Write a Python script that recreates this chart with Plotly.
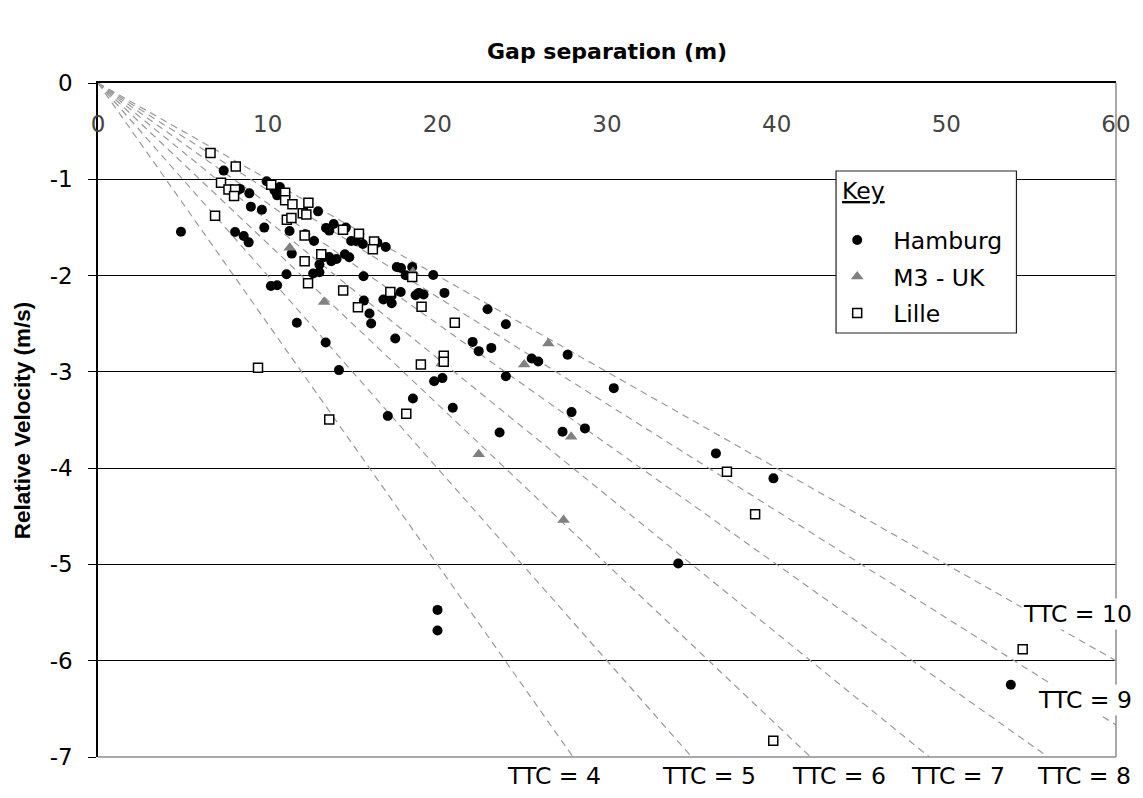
import plotly.graph_objects as go

# ---------------- data ----------------
hamburg_gap = [7.41, 9.94, 10.72, 10.40, 10.56, 8.37, 8.92, 9.01, 9.66, 4.89,
               8.08, 8.59, 8.88, 9.80, 11.29, 12.97, 13.89, 13.44, 13.63, 14.61,
               12.22, 12.73, 11.42, 13.34, 13.63, 14.06, 14.55, 13.05, 12.68, 13.05,
               11.11, 10.19, 10.56, 11.72, 14.92, 15.20, 15.61, 16.47, 16.96, 14.81,
               15.65, 17.61, 17.86, 18.13, 18.52, 19.76, 17.84, 17.31, 17.31, 16.82,
               18.72, 18.91, 19.19, 20.42, 15.67, 16.00, 16.10, 22.96, 24.04, 13.75,
               13.42, 17.52, 22.08, 22.44, 23.18, 25.56, 25.95, 24.04, 14.20, 19.81,
               20.30, 18.56, 17.08, 20.91, 23.67, 27.68, 30.40, 27.91, 27.38, 28.70,
               36.42, 39.81, 20.01, 20.01, 34.20, 53.80]
hamburg_vel = [-0.91, -1.02, -1.08, -1.115, -1.167, -1.10, -1.146, -1.284, -1.316, -1.544,
               -1.547, -1.589, -1.655, -1.502, -1.537, -1.333, -1.464, -1.506, -1.533, -1.502,
               -1.572, -1.641, -1.772, -1.807, -1.807, -1.828, -1.779, -1.886, -1.979, -1.966,
               -1.987, -2.108, -2.10, -2.49, -1.641, -1.641, -1.672, -1.658, -1.703, -1.810,
               -2.007, -1.911, -1.921, -1.997, -1.911, -1.994, -2.17, -2.21, -2.287, -2.249,
               -2.204, -2.18, -2.197, -2.18, -2.26, -2.394, -2.498, -2.35, -2.505, -1.852,
               -2.695, -2.654, -2.689, -2.785, -2.751, -2.861, -2.892, -3.045, -2.982, -3.097,
               -3.065, -3.276, -3.459, -3.373, -3.629, -2.823, -3.169, -3.418, -3.622, -3.587,
               -3.847, -4.106, -5.472, -5.687, -4.99, -6.25]

m3_gap = [11.30, 13.32, 18.56, 20.25, 26.54, 25.12, 22.44, 27.89, 27.44]
m3_vel = [-1.71, -2.274, -1.962, -2.913, -2.705, -2.923, -3.857, -3.674, -4.538]

lille_gap = [6.63, 8.12, 7.25, 7.69, 8.08, 8.02, 6.90, 10.21, 11.03, 11.03,
             11.46, 12.40, 12.07, 12.28, 11.13, 11.40, 12.18, 13.16, 12.18, 12.38,
             14.45, 14.44, 15.38, 16.27, 16.20, 17.23, 15.32, 18.52, 19.07, 21.03,
             20.38, 20.38, 19.03, 13.63, 18.17, 9.43, 37.07, 38.73, 39.80, 54.50]
lille_vel = [-0.728, -0.866, -1.035, -1.105, -1.105, -1.174, -1.378, -1.056, -1.139, -1.219,
             -1.26, -1.243, -1.354, -1.367, -1.419, -1.402, -1.585, -1.779, -1.852, -2.08,
             -2.156, -1.523, -1.565, -1.645, -1.727, -2.17, -2.329, -2.014, -2.325, -2.49,
             -2.834, -2.896, -2.923, -3.494, -3.436, -2.958, -4.037, -4.479, -6.83, -5.88]

ttc_values = [4, 5, 6, 7, 8, 9, 10]
x_tick_vals = [0, 10, 20, 30, 40, 50, 60]
x_tick_text = ["0", "10", "20", "30", "40", "50", "60"]
y_tick_vals = [0, -1, -2, -3, -4, -5, -6, -7]
y_tick_text = ["0", "-1", "-2", "-3", "-4", "-5", "-6", "-7"]
x_range = [0, 60]
y_range = [-7, 0]

FONT = "DejaVu Sans, Verdana, sans-serif"
BOLD_FONT_ARIAL = "Liberation Sans, Arial, sans-serif"

fig = go.Figure()

# TTC reference lines: relative velocity = -gap / TTC, clipped to the frame
for ttc in ttc_values:
    x_end = min(x_range[1], -y_range[0] * ttc)
    fig.add_trace(go.Scatter(
        x=[0, x_end], y=[0, -x_end / ttc], mode="lines",
        line=dict(color="#9a9a9a", width=1.2, dash="7px,5px"),
        showlegend=False, hoverinfo="skip"))

fig.add_trace(go.Scatter(
    x=hamburg_gap, y=hamburg_vel, mode="markers", name="Hamburg",
    legendgroup="a",
    marker=dict(symbol="circle", size=10, color="black")))
fig.add_trace(go.Scatter(
    x=m3_gap, y=m3_vel, mode="markers", name="M3 - UK",
    legendgroup="b",
    marker=dict(symbol="triangle-up", size=11, color="#808080")))
fig.add_trace(go.Scatter(
    x=lille_gap, y=lille_vel, mode="markers", name="Lille",
    legendgroup="c",
    marker=dict(symbol="square", size=9, color="white",
                line=dict(color="black", width=1.5))))

fig.update_layout(
    width=1143, height=798,
    margin=dict(l=98, r=23, t=83, b=41),
    paper_bgcolor="white", plot_bgcolor="white",
    font=dict(family=FONT, color="black", size=23),
    showlegend=True,
    legend=dict(
        x=0.7104, y=0.7995, xanchor="left", yanchor="top",
        bgcolor="rgba(0,0,0,0)", borderwidth=0,
        font=dict(size=23.5), tracegroupgap=3, traceorder="grouped",
        itemwidth=62),
    xaxis=dict(
        range=x_range, side="top", tickvals=x_tick_vals, ticktext=x_tick_text,
        ticks="", showgrid=False, zeroline=False,
        showline=True, linecolor="black", linewidth=1.5,
        ticklabelposition="inside", ticklabelstandoff=35,
        ticklabeloverflow="allow",
        tickfont=dict(size=23)),
    yaxis=dict(
        range=y_range, tickvals=y_tick_vals, ticktext=y_tick_text,
        ticks="outside", ticklen=8, tickcolor="black", tickwidth=1.2,
        ticklabelstandoff=11,
        showgrid=True, gridcolor="black", gridwidth=1.2,
        zeroline=False, showline=True, linecolor="black", linewidth=1.5,
        tickfont=dict(size=23)),
)

# gray right and bottom edges of the frame
fig.add_shape(type="line", xref="paper", yref="paper", x0=1, x1=1, y0=0, y1=1,
              line=dict(color="#8c8c8c", width=1.5))
fig.add_shape(type="line", xref="paper", yref="paper", x0=0, x1=1, y0=0, y1=0,
              line=dict(color="#8c8c8c", width=1.5))

# key box (white, covers the grid) with its heading
fig.add_shape(type="rect", xref="paper", yref="paper",
              x0=0.7250, x1=0.9022, y0=0.6291, y1=0.8694,
              fillcolor="white", line=dict(color="#222222", width=1.2),
              layer="above")
fig.add_annotation(text="<u>Key</u>", xref="paper", yref="paper",
                   x=0.729, y=0.8398, showarrow=False, font=dict(size=23.5),
                   xanchor="left", yanchor="middle")

# axis titles
fig.add_annotation(text="<b>Gap separation (m)</b>", xref="paper", yref="paper",
                   x=0.5, y=1.046, showarrow=False, font=dict(size=22),
                   xanchor="center", yanchor="middle")
fig.add_annotation(text="<b>Relative Velocity (m/s)</b>", xref="paper", yref="paper",
                   x=-0.0744, y=0.5, showarrow=False, textangle=-90,
                   font=dict(size=22.5, family=BOLD_FONT_ARIAL),
                   xanchor="center", yanchor="middle")

# TTC labels
bottom_label_x = [26.9, 36.0, 43.7, 50.7, 58.1]
for ttc, xl in zip(ttc_values[:5], bottom_label_x):
    fig.add_annotation(text=f"TTC = {ttc}", x=xl, y=y_range[0], xref="x", yref="y",
                       yshift=-19, showarrow=False, font=dict(size=23.5),
                       xanchor="center", yanchor="middle")
side_label_y = [-6.41, -5.51]
for ttc, yl in zip(ttc_values[5:], side_label_y):
    fig.add_annotation(text=f"TTC = {ttc}", x=1.0176, y=yl, xref="paper", yref="y",
                       showarrow=False, font=dict(size=23.5), bgcolor="white",
                       xanchor="right", yanchor="middle")

fig.write_html("out.html")
